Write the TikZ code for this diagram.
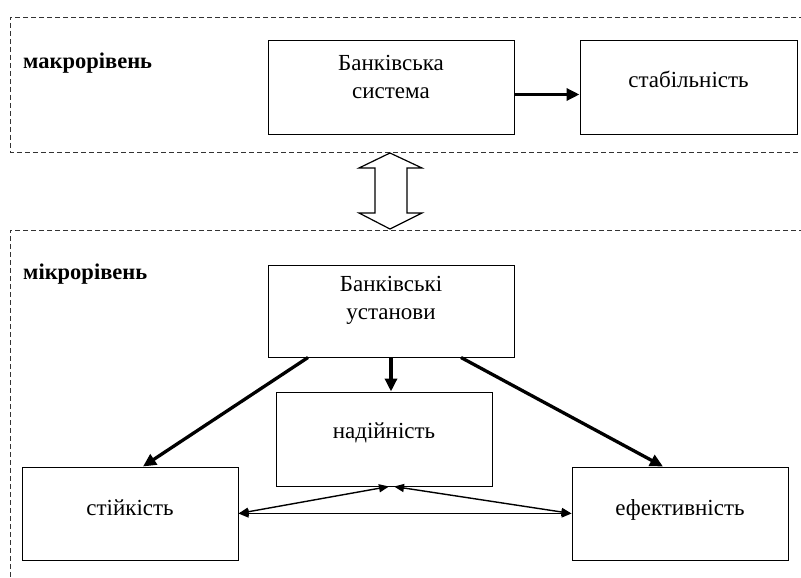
\documentclass[tikz,border=0pt]{standalone}
\usepackage{fontspec}
\setmainfont{Liberation Serif}
\usetikzlibrary{arrows.meta,calc}
\begin{document}
\begin{tikzpicture}[x=1pt,y=-1pt,
 box/.style={draw, line width=1pt, rectangle, inner sep=0pt},
 txt/.style={font=\fontsize{23}{28}\selectfont, align=center},
 lvl/.style={font=\bfseries\fontsize{22.5}{26}\selectfont, anchor=west, inner sep=0pt},
 frame/.style={draw, line width=0.9pt, dash pattern=on 5pt off 3pt, color=black!80},
 thickarrow/.style={line width=3.3pt, -{Triangle[length=13pt,width=12pt]}},
 thinarrow/.style={line width=1.4pt, {Triangle[length=10pt,width=8pt]}-{Triangle[length=10pt,width=8pt]}},
]
\useasboundingbox (0,0) rectangle (801,578);
\fill[white] (0,0) rectangle (801,578);
\begin{scope}
\clip (0,0) rectangle (801,578);
\draw[frame] (812,17) -- (10,17) -- (10,152) -- (812,152);
\draw[frame] (812,230) -- (10,230) -- (10,590);
\end{scope}

% hollow double arrow
\draw[line width=1.2pt, fill=white] (390,153) -- (422,168) -- (407,168) -- (407,213) -- (422,213) -- (390,229) -- (359,213) -- (375,213) -- (375,168) -- (359,168) -- cycle;

\node[lvl] (macro) at (23,63) {макрорівень};
\node[lvl] (micro) at (23,274) {мікрорівень};

\node[box, minimum width=246pt, minimum height=93pt,
  label={[txt, yshift=11pt]center:Банківська\\система}] (bs) at (391,87.5) {};
\node[box, minimum width=217pt, minimum height=93pt,
  label={[txt, yshift=8pt]center:стабільність}] (stab) at (688.5,87.5) {};
\node[box, minimum width=246pt, minimum height=92pt,
  label={[txt, yshift=11pt]center:Банківські\\установи}] (bu) at (391,311) {};
\node[box, minimum width=216pt, minimum height=94pt,
  label={[txt, yshift=6pt]center:надійність}] (nad) at (384,439) {};
\node[box, minimum width=216pt, minimum height=93pt,
  label={[txt, yshift=5.5pt]center:стійкість}] (sti) at (130,513.5) {};
\node[box, minimum width=216pt, minimum height=93pt,
  label={[txt, yshift=3.5pt]center:ефективність}] (efe) at (680,513.5) {};

\coordinate (bsout) at ($(bs.east)+(0,7)$);
\draw[thickarrow] (bsout) -- (stab.west |- bsout);
\draw[thickarrow] ($(bu.south)+(-83,0)$) -- ($(sti.north)+(13,0)$);
\draw[thickarrow] ($(bu.south)+(70,0)$) -- ($(efe.north)+(-17,0)$);
\draw[thickarrow] (bu.south) -- (bu.south |- nad.north);

\draw[thinarrow] (sti.east) -- (efe.west);
\draw[thinarrow] (sti.east) -- ($(nad.south)+(5,0)$);
\draw[thinarrow] (efe.west) -- ($(nad.south)+(10,0)$);
\end{tikzpicture}
\end{document}
